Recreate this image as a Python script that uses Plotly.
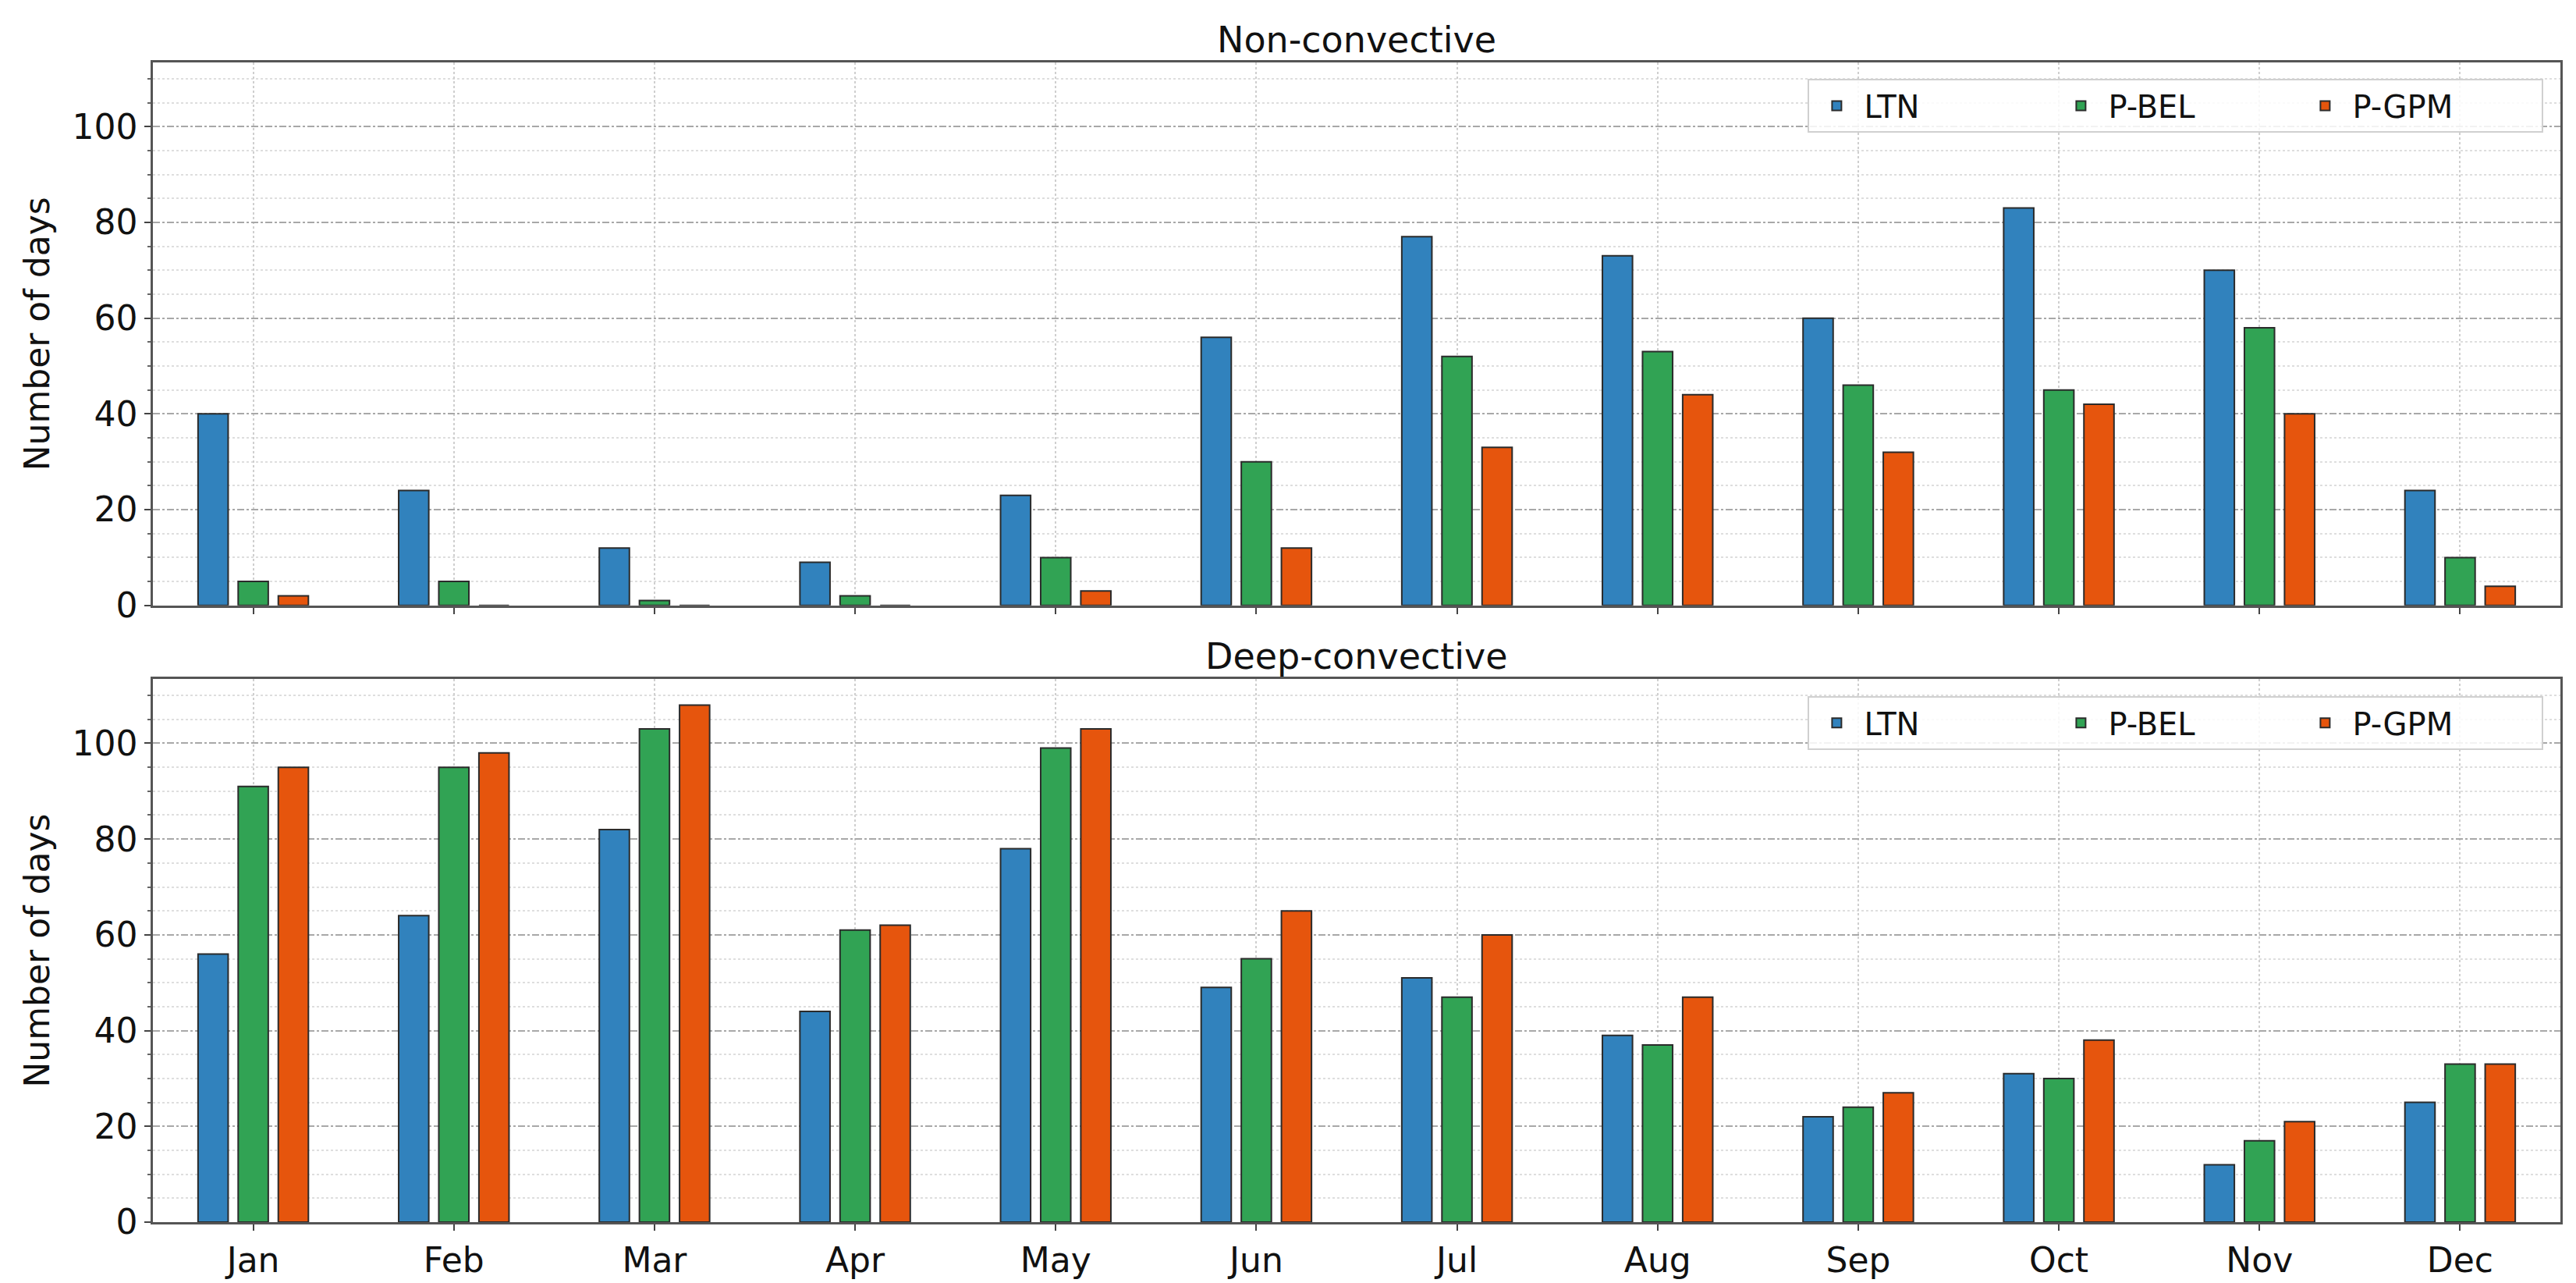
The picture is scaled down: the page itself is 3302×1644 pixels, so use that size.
import plotly.graph_objects as go

months = ["Jan", "Feb", "Mar", "Apr", "May", "Jun", "Jul", "Aug", "Sep", "Oct", "Nov", "Dec"]
series_names = ["LTN", "P-BEL", "P-GPM"]

# Non-convective
nc_ltn = [40, 24, 12, 9, 23, 56, 77, 73, 60, 83, 70, 24]
nc_pbel = [5, 5, 1, 2, 10, 30, 52, 53, 46, 45, 58, 10]
nc_pgpm = [2, 0, 0, 0, 3, 12, 33, 44, 32, 42, 40, 4]

# Deep-convective
dc_ltn = [56, 64, 82, 44, 78, 49, 51, 39, 22, 31, 12, 25]
dc_pbel = [91, 95, 103, 61, 99, 55, 47, 37, 24, 30, 17, 33]
dc_pgpm = [95, 98, 108, 62, 103, 65, 60, 47, 27, 38, 21, 33]

panel_titles = ["Non-convective", "Deep-convective"]
y_title = "Number of days"
y_ticks = [0, 20, 40, 60, 80, 100]

colors = ["#3182bd", "#31a354", "#e6550d"]
FONT = "DejaVu Sans, sans-serif"

W, H = 3302, 1644
ML, MR, MT, MB = 188, 28, 72, 78
plot_h = H - MT - MB
panel_h = 699.5
top_dom = [1 - panel_h / plot_h, 1.0]
bot_dom = [0.0, panel_h / plot_h]

fig = go.Figure()

for vals, name, col in zip([nc_ltn, nc_pbel, nc_pgpm], series_names, colors):
    fig.add_trace(go.Bar(x=months, y=vals, name=name, marker=dict(color=col, line=dict(color="#2b2b2b", width=2)),
                         xaxis="x", yaxis="y", legend="legend"))
for vals, name, col in zip([dc_ltn, dc_pbel, dc_pgpm], series_names, colors):
    fig.add_trace(go.Bar(x=months, y=vals, name=name, marker=dict(color=col, line=dict(color="#2b2b2b", width=2)),
                         xaxis="x2", yaxis="y2", legend="legend2"))

common_x = dict(
    type="category", range=[-0.5, 11.5], showgrid=True, gridcolor="#cfcfcf", gridwidth=2, griddash="dot",
    showline=True, linecolor="#555555", linewidth=2.5, mirror=True,
    ticks="outside", ticklen=8, tickwidth=2, tickcolor="#444444",
    tickfont=dict(family=FONT, size=44, color="#111111"), zeroline=False,
)
common_y = dict(
    range=[0, 113.4], tickvals=y_ticks, showgrid=True, gridcolor="#a8a8a8", gridwidth=2, griddash="dashdot",
    showline=True, linecolor="#555555", linewidth=2.5, mirror=True,
    ticks="outside", ticklen=8, tickwidth=2, tickcolor="#444444",
    tickfont=dict(family=FONT, size=44, color="#111111"), zeroline=False,
    minor=dict(dtick=5, tick0=0, showgrid=True, gridcolor="#dedede", gridwidth=2, griddash="dot",
               ticks="outside", ticklen=4, tickwidth=1.5, tickcolor="#666666"),
    title=dict(text=y_title, font=dict(family=FONT, size=44, color="#111111"), standoff=16),
)

legend_common = dict(
    orientation="h", x=0.993, xanchor="right", yanchor="top",
    bgcolor="rgba(255,255,255,0.85)", bordercolor="#d0d0d0", borderwidth=2,
    font=dict(family=FONT, size=40, color="#111111"),
    entrywidth=238, entrywidthmode="pixels", itemwidth=60,
)

fig.update_layout(
    width=W, height=H,
    margin=dict(l=ML, r=MR, t=MT, b=MB),
    paper_bgcolor="white", plot_bgcolor="white",
    barmode="group", bargap=0.4, bargroupgap=0.25,
    font=dict(family=FONT, size=44, color="#111111"),
    xaxis=dict(common_x, anchor="y", showticklabels=False),
    yaxis=dict(common_y, domain=top_dom, anchor="x"),
    xaxis2=dict(common_x, anchor="y2"),
    yaxis2=dict(common_y, domain=bot_dom, anchor="x2"),
    legend=dict(legend_common, y=(H - MB - 93) / plot_h),
    legend2=dict(legend_common, y=(H - MB - 888) / plot_h),
    annotations=[
        dict(text=panel_titles[0], x=0.5, xref="paper", y=top_dom[1], yref="paper", yanchor="bottom",
             showarrow=False, font=dict(family=FONT, size=46, color="#111111"), yshift=0),
        dict(text=panel_titles[1], x=0.5, xref="paper", y=bot_dom[1], yref="paper", yanchor="bottom",
             showarrow=False, font=dict(family=FONT, size=46, color="#111111"), yshift=0),
    ],
)

fig.write_html("out.html")
